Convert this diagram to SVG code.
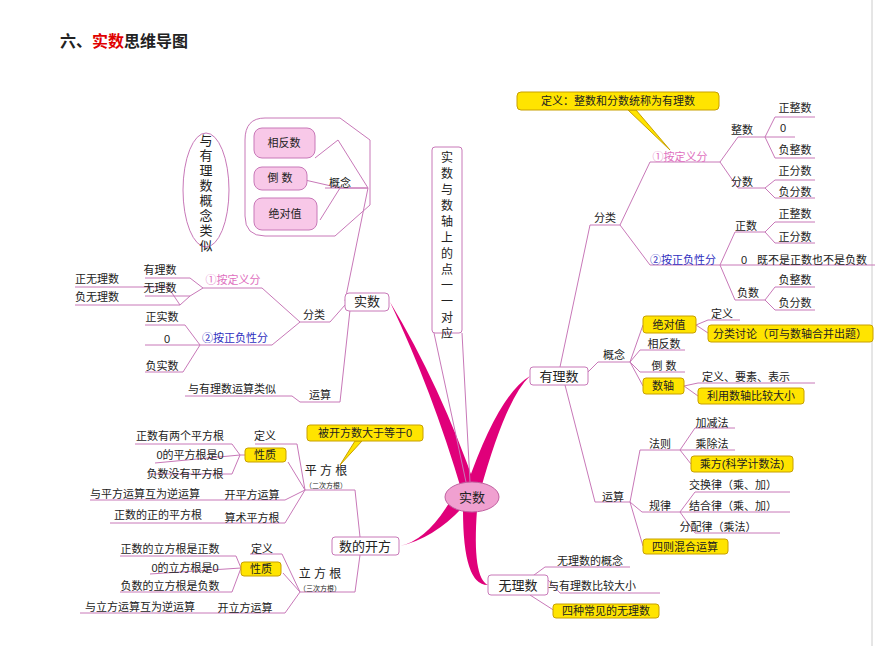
<svg xmlns="http://www.w3.org/2000/svg" width="875" height="646" viewBox="0 0 875 646">
<style>
text{font-family:"Liberation Sans","Noto Sans CJK SC",sans-serif;font-size:11px;fill:#222;text-anchor:middle}
.big{font-size:13px}
.sm{font-size:7px}
.pk{fill:#e070c0}
.bl{fill:#3030c0}
.ln{fill:none;stroke:#c878b8;stroke-width:1}
.y{fill:#ffe400;stroke:#c8a000;stroke-width:1}
.bx{fill:#fff;stroke:#c878b8;stroke-width:1}
.pb{fill:#f8c8e8;stroke:#c878b8;stroke-width:1}
.th{fill:#e0007a}
</style>
<rect width="875" height="646" fill="#fff"/>
<line x1="872" y1="0" x2="872" y2="646" stroke="#ccc"/>
<text x="60" y="47" style="text-anchor:start;font-size:16px;font-weight:bold;font-family:'Liberation Serif','Noto Sans CJK SC',serif">六、<tspan fill="#e00000">实数</tspan>思维导图</text>

<g id="connectors">
<path class="th" d="M462,492 Q432,390 390,302 Q440,385 476,488 Z"/>
<path class="th" d="M466,488 Q498,395 530,376 Q506,398 480,492 Z"/>
<path class="th" d="M452,498 Q428,540 400,546 Q434,538 462,508 Z"/>
<path class="th" d="M463,510 Q463,586 488,585 Q472,578 477,510 Z"/>
<path class="ln" d="M462,333 L470,482 M434,333 L466,482"/>
<path class="ln" d="M345,301 L368,188 L325,188 M368,188 L338,140 L315,158 M368,188 L340,188 L305,180 M340,188 L320,220"/>
<path class="ln" d="M245,140 Q245,118 265,118 L340,118 L370,140 L370,205 L335,236 L265,236 Q245,236 245,216 Z"/>
<path class="ln" d="M345,305 L330,322 L300,322 L262,288 L203,288 L190,296 L145,296 M203,288 L190,278 L145,278 M190,296 L180,305 L75,305 M180,305 L168,287 L75,287"/>
<path class="ln" d="M300,322 L272,345 L200,345 L185,325 L145,325 M200,345 L145,345 M200,345 L183,372 L145,372"/>
<path class="ln" d="M350,310 L340,402 L300,402 L292,396 L185,396"/>
<path class="ln" d="M360,537 L355,490 L305,490 L297,444 L255,444 M305,490 L288,462 M286,455 L240,455 L232,444 L135,444 M240,455 L155,463 M240,455 L232,474 L150,474 M305,490 L285,500 L90,500 M305,490 L285,523 L110,523"/>
<path class="ln" d="M360,555 L355,592 L300,592 L282,554 L250,554 M300,592 L283,573 M241,568 L236,556 L120,556 M241,568 L150,574 M241,568 L232,592 L120,592 M300,592 L285,613 L80,613"/>
<path class="y" d="M355,441 L340,465 L362,441 Z"/>
<path class="ln" d="M560,367 L590,225 L620,225 L650,162 L720,162 L738,137 L765,137 L775,117 L815,117 M765,137 L795,137 M765,137 L775,158 L815,158 M720,162 L738,188 L765,188 L775,180 L815,180 M765,188 L775,198 L815,198"/>
<path class="ln" d="M620,225 L650,265 L720,265 L735,232 L765,232 L775,222 L815,222 M765,232 L775,243 L815,243 M720,265 L875,265 M720,265 L735,300 L765,300 L775,287 L815,287 M765,300 L775,310 L815,310"/>
<path class="ln" d="M588,372 L598,362 L630,362 L643,325 M696,325 L708,320 L740,320 M696,325 L708,333 M630,362 L640,350 L685,350 M630,362 L640,372 L685,372 M630,362 L643,386 M684,386 L698,383 L815,383 M684,386 L698,396"/>
<path class="ln" d="M565,385 L595,502 L630,502 L640,450 L680,450 L695,428 L735,428 M680,450 L735,450 M680,450 L691,464 M630,502 L642,512 L680,512 L695,492 L790,492 M680,512 L790,512 M680,512 L695,533 L780,533 M630,502 L643,546"/>
<path class="y" d="M628,110 L636,110 L670,150 Z"/>
<path class="ln" d="M530,578 L545,567 L630,567 M548,580 L560,593 L660,593 M530,595 L555,611"/>
</g>

<g id="n-center"><ellipse cx="472" cy="497" rx="27" ry="15" fill="#f0a0d0" stroke="#c060a0"/><text x="472" y="502" class="big">实数</text></g>
<g id="n-shishu"><rect class="bx" x="345" y="293" width="44" height="18" rx="4"/><text x="367" y="306" class="big">实数</text></g>
<g id="n-gn"><text x="340" y="187">概念</text></g>
<g id="n-xfs"><rect class="pb" x="254" y="128" width="61" height="30" rx="8"/><text x="284" y="147">相反数</text></g>
<g id="n-ds"><rect class="pb" x="254" y="167" width="53" height="23" rx="8"/><text x="280" y="182">倒  数</text></g>
<g id="n-jdz"><rect class="pb" x="254" y="198" width="63" height="32" rx="8"/><text x="285" y="218">绝对值</text></g>
<g id="n-lsh"><ellipse cx="206" cy="190" rx="23" ry="57" fill="#fff" stroke="#c878b8"/><text x="206" y="145" style="font-size:13px"><tspan x="206">与</tspan><tspan x="206" dy="15">有</tspan><tspan x="206" dy="15">理</tspan><tspan x="206" dy="15">数</tspan><tspan x="206" dy="15">概</tspan><tspan x="206" dy="15">念</tspan><tspan x="206" dy="15">类</tspan><tspan x="206" dy="15">似</tspan></text></g>
<g id="n-zhou"><rect class="bx" x="432" y="147" width="30" height="186" rx="3"/><text x="447" y="162" style="font-size:12px"><tspan x="447">实</tspan><tspan x="447" dy="16">数</tspan><tspan x="447" dy="16">与</tspan><tspan x="447" dy="16">数</tspan><tspan x="447" dy="16">轴</tspan><tspan x="447" dy="16">上</tspan><tspan x="447" dy="16">的</tspan><tspan x="447" dy="16">点</tspan><tspan x="447" dy="16">一</tspan><tspan x="447" dy="16">一</tspan><tspan x="447" dy="16">对</tspan><tspan x="447" dy="16">应</tspan></text></g>
<g id="n-left-fl">
<text x="314" y="319">分类</text>
<text x="233" y="284" class="pk">①按定义分</text>
<text x="160" y="274">有理数</text><text x="160" y="292">无理数</text>
<text x="97" y="283">正无理数</text><text x="97" y="301">负无理数</text>
<text x="235" y="342" class="bl">②按正负性分</text>
<text x="162" y="321">正实数</text><text x="167" y="343">0</text><text x="162" y="370">负实数</text>
<text x="320" y="399">运算</text><text x="232" y="393">与有理数运算类似</text>
</g>
<g id="n-kaifang"><rect class="bx" x="332" y="537" width="67" height="18" rx="3"/><text x="365" y="551" class="big">数的开方</text></g>
<g id="n-pfg">
<rect class="y" x="307" y="425" width="116" height="16" rx="3"/><text x="365" y="437">被开方数大于等于0</text>
<text x="326" y="475" style="font-size:12px">平 方 根</text><text x="326" y="488" class="sm">（二次方根）</text>
<text x="265" y="440">定义</text>
<rect class="y" x="245" y="448" width="41" height="14" rx="3"/><text x="265" y="459">性质</text>
<text x="180" y="440">正数有两个平方根</text><text x="190" y="459">0的平方根是0</text><text x="185" y="478">负数没有平方根</text>
<text x="252" y="499">开平方运算</text><text x="145" y="498">与平方运算互为逆运算</text>
<text x="252" y="522">算术平方根</text><text x="158" y="519">正数的正的平方根</text>
</g>
<g id="n-lfg">
<text x="320" y="578" style="font-size:12px">立 方 根</text><text x="320" y="591" class="sm">（三次方根）</text>
<text x="262" y="553">定义</text>
<rect class="y" x="241" y="562" width="40" height="14" rx="3"/><text x="261" y="573">性质</text>
<text x="170" y="553">正数的立方根是正数</text><text x="185" y="572">0的立方根是0</text><text x="170" y="590">负数的立方根是负数</text>
<text x="245" y="612">开立方运算</text><text x="140" y="611">与立方运算互为逆运算</text>
</g>
<g id="n-youli"><rect class="bx" x="530" y="367" width="58" height="18" rx="3"/><text x="559" y="381" class="big">有理数</text></g>
<g id="n-right-fl">
<rect class="y" x="517" y="92" width="202" height="18" rx="4"/><text x="618" y="105">定义：整数和分数统称为有理数</text>
<text x="605" y="222">分类</text>
<text x="680" y="161" class="pk">①按定义分</text>
<text x="742" y="134">整数</text><text x="795" y="112">正整数</text><text x="783" y="132">0</text><text x="795" y="154">负整数</text>
<text x="742" y="186">分数</text><text x="795" y="175">正分数</text><text x="795" y="196">负分数</text>
<text x="683" y="264" class="bl">②按正负性分</text>
<text x="746" y="230">正数</text><text x="795" y="218">正整数</text><text x="795" y="241">正分数</text>
<text x="744" y="264">0</text><text x="757" y="264" style="text-anchor:start">既不是正数也不是负数</text>
<text x="748" y="297">负数</text><text x="795" y="284">负整数</text><text x="795" y="307">负分数</text>
</g>
<g id="n-right-gn">
<text x="614" y="359">概念</text>
<rect class="y" x="643" y="316" width="53" height="17" rx="3"/><text x="669" y="329">绝对值</text>
<text x="722" y="318">定义</text>
<rect class="y" x="708" y="325" width="165" height="17" rx="3"/><text x="790" y="338">分类讨论（可与数轴合并出题）</text>
<text x="664" y="348">相反数</text><text x="664" y="370">倒  数</text>
<rect class="y" x="643" y="378" width="41" height="16" rx="3"/><text x="663" y="390">数轴</text>
<text x="746" y="381">定义、要素、表示</text>
<rect class="y" x="698" y="388" width="106" height="16" rx="3"/><text x="751" y="400">利用数轴比较大小</text>
</g>
<g id="n-right-ys">
<text x="613" y="501">运算</text>
<text x="660" y="448">法则</text><text x="712" y="427">加减法</text><text x="712" y="448">乘除法</text>
<rect class="y" x="691" y="456" width="102" height="16" rx="3"/><text x="742" y="468">乘方(科学计数法)</text>
<text x="660" y="510">规律</text><text x="733" y="489">交换律（乘、加）</text><text x="733" y="510">结合律（乘、加）</text><text x="718" y="531">分配律（乘法）</text>
<rect class="y" x="643" y="539" width="85" height="15" rx="3"/><text x="685" y="551">四则混合运算</text>
</g>
<g id="n-wuli"><rect class="bx" x="488" y="575" width="60" height="20" rx="3"/><text x="518" y="590" class="big">无理数</text>
<text x="590" y="565">无理数的概念</text><text x="592" y="590">与有理数比较大小</text>
<rect class="y" x="553" y="604" width="106" height="14" rx="3"/><text x="606" y="615">四种常见的无理数</text></g>
</svg>
